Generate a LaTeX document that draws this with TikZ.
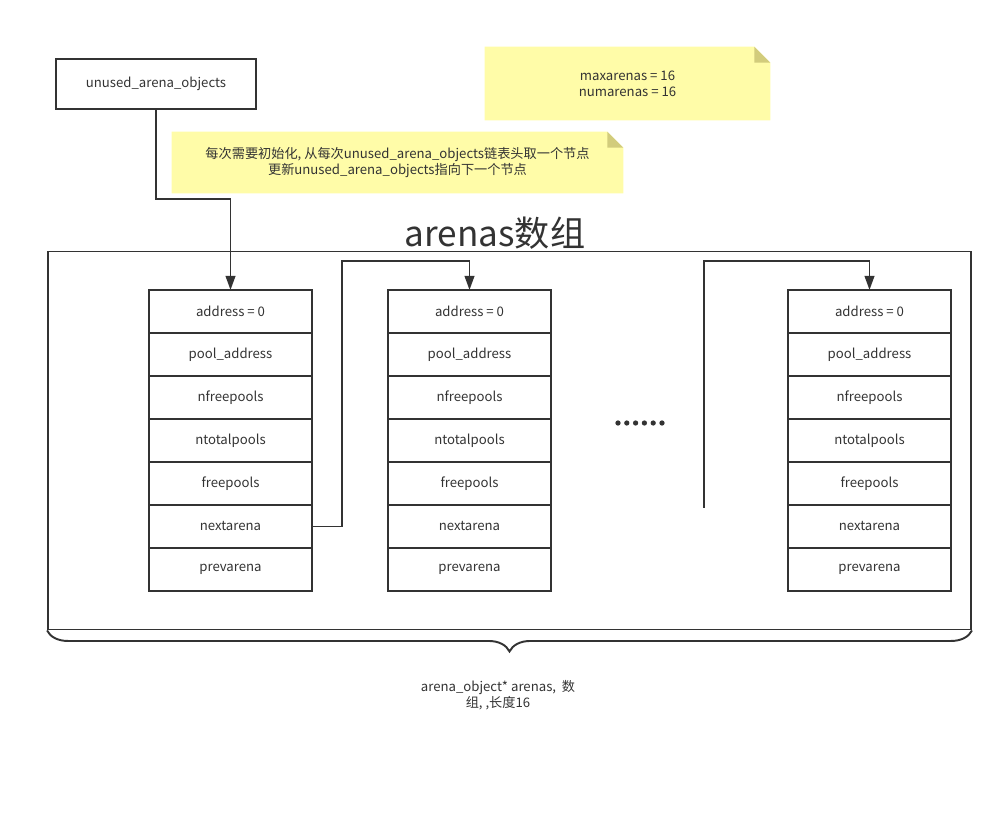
\documentclass[tikz,border=0pt]{standalone}
\usepackage{fontspec}
\setmainfont{Noto Sans CJK SC}
\usetikzlibrary{arrows.meta, positioning, backgrounds, decorations.pathreplacing}
\definecolor{ink}{HTML}{333333}
\definecolor{notefill}{HTML}{FFFCA8}
\definecolor{notefold}{HTML}{D2CC7C}

\tikzset{
  txt/.style={font=\fontsize{7.5}{9}\selectfont, text=ink, align=center},
  cell/.style={txt, draw=ink, line width=1.1pt, minimum width=3.26cm,
               minimum height=0.86cm, inner sep=0pt, outer sep=0pt},
  note/.style={txt, inner sep=0pt},
  link/.style={draw=ink, line width=1.1pt, -{Triangle[length=8pt,width=5.5pt]}}
}

\begin{document}
\begin{tikzpicture}
  \useasboundingbox (0,0) rectangle (20.06,-16.32);

  % Head of the free list
  \node[cell, minimum width=4cm, minimum height=1cm] (unused) at (3.12,-1.68)
        {unused\_arena\_objects};

  % Notes
  \node[note, minimum width=5.7cm, minimum height=1.46cm] (limits) at (12.55,-1.67)
        {maxarenas = 16\\numarenas = 16};
  \node[note, minimum width=9.02cm, minimum height=1.22cm] (init) at (7.95,-3.25)
        {每次需要初始化, 从每次unused\_arena\_objects链表头取一个节点\\
         更新unused\_arena\_objects指向下一个节点};
  \begin{scope}[on background layer]
    \foreach \n in {limits, init} {
      \fill[notefill] (\n.south west) -- (\n.north west)
        -- ([xshift=-0.32cm]\n.north east) -- ([yshift=-0.32cm]\n.north east)
        -- (\n.south east) -- cycle;
      \fill[notefold] ([xshift=-0.32cm]\n.north east)
        -- ([xshift=-0.32cm,yshift=-0.32cm]\n.north east)
        -- ([yshift=-0.32cm]\n.north east) -- cycle;
    }
  \end{scope}

  % The arenas array
  \node[draw=ink, line width=1.1pt, minimum width=18.46cm, minimum height=7.56cm,
        inner sep=0pt] (arenas) at (10.19,-8.81) {};
  \node[font=\fontsize{20}{23}\selectfont, text=ink] (title) at (9.9,-4.66) {arenas数组};

  % Three arena_object records
  \foreach \c/\x in {a/4.61, b/9.39, c/17.39} {
    \node[cell] (\c1) at (\x,-6.23) {address = 0};
    \foreach \f [count=\i from 2] in {pool\_address, nfreepools, ntotalpools,
                                       freepools, nextarena, prevarena} {
      \pgfmathtruncatemacro{\p}{\i-1}
      \node[cell, below=0pt of \c\p] (\c\i) {\f};
    }
  }

  % Gap between records
  \foreach \k in {0,...,5}
    \fill[ink] (12.36+\k*0.176,-8.46) circle (1.5pt);

  % Links
  \coordinate (tail) at (14.08,-10.16);
  \draw[link] (unused.south) -- ++(0,-1.8) -| (a1.north);
  \draw[link] (a6.east) -- ++(0.6,0) |- ([yshift=0.58cm]b1.north) -- (b1.north);
  \draw[link] (tail) |- ([yshift=0.58cm]c1.north) -- (c1.north);

  % Brace and caption
  \draw[ink, line width=1.1pt, decorate, decoration={brace, mirror, amplitude=0.42cm}]
    (arenas.south west) -- (arenas.south east);
  \node[txt] (caption) at (9.96,-13.9) {arena\_object* arenas,~ 数\\组, ,长度16};
\end{tikzpicture}
\end{document}
